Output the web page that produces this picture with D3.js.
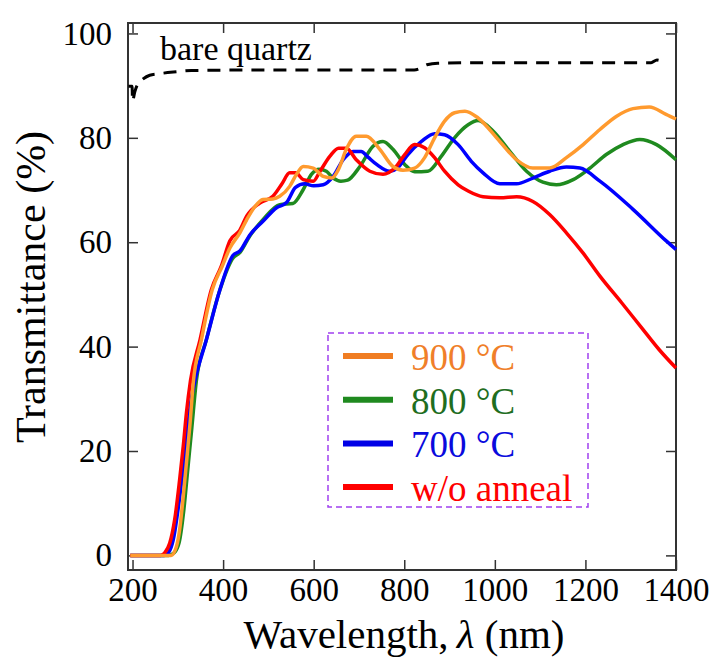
<!DOCTYPE html>
<html>
<head>
<meta charset="utf-8">
<script src="https://cdn.jsdelivr.net/npm/d3@7"></script>
<style>
  body { margin: 0; background: #fff; }
  svg text { font-family: "Liberation Serif", "Times New Roman", Times, "DejaVu Serif", serif; }
</style>
</head>
<body>
<div id="chart"></div>
<script>
// wavelength (nm), transmittance (%)
const bareQuartz = [[191,89.9],[199,89.9],[200,87.0],[205,88.8],[212,90.4],[222,91.2],[238,92.0],[260,92.3],[290,92.6],[330,92.9],[500,93.0],[700,93.0],[822,93.0],[835,93.3],[850,94.0],[874,94.3],[1000,94.4],[1200,94.4],[1345,94.4],[1358,94.9],[1370,94.6],[1378,94.2]];

const noAnneal = [[195,0],[262,0],[272,0.6],[282,2.3],[293,6.8],[304,14.5],[312,20.9],[319,27.3],[328,33.5],[349,41.3],[374,50.9],[396,55.4],[415,60.3],[437,62.3],[452,65.0],[481,67.5],[510,68.8],[530,71.2],[547,73.3],[560,73.3],[577,72.0],[599,71.7],[614,73.6],[636,76.5],[655,78.0],[672,78.0],[694,75.8],[724,73.6],[753,73.0],[779,74.2],[801,76.8],[823,78.7],[845,78.1],[867,76.2],[889,73.6],[919,71.0],[941,69.8],[974,68.7],[1011,68.5],[1048,68.7],[1084,67.8],[1121,65.3],[1158,61.8],[1195,57.9],[1232,53.5],[1280,48.4],[1326,43.4],[1363,39.4],[1400,35.9]];

const anneal700 = [[195,0],[270,0],[280,0.6],[290,3],[300,8.5],[311,16],[320,23],[328,29],[338,33.5],[363,41.3],[393,50.9],[422,57.5],[437,58.3],[459,61.4],[488,64.0],[518,66.6],[540,67.6],[560,70.5],[580,71.2],[600,70.8],[621,71.0],[643,72.6],[665,75.8],[687,77.4],[705,77.4],[720,76.3],[739,74.9],[768,73.6],[785,74.2],[808,76.8],[838,79.3],[867,80.8],[889,80.6],[919,78.7],[948,75.5],[974,73.3],[1011,71.2],[1048,71.2],[1084,72.3],[1121,73.6],[1158,74.4],[1188,74.2],[1232,71.7],[1305,66.3],[1379,60.2],[1400,58.6]];

const anneal800 = [[195,0],[280,0],[292,0.5],[303,2.5],[313,8.5],[322,16.5],[331,24.5],[341,33.5],[363,41.3],[393,50.9],[422,57.0],[437,58.0],[459,61.2],[488,64.3],[525,67.2],[554,67.4],[577,70.1],[595,73.0],[612,74.0],[628,73.6],[643,72.3],[660,71.7],[675,71.9],[702,74.5],[731,78.4],[753,79.3],[775,77.8],[801,74.9],[823,73.5],[852,73.6],[882,76.5],[911,80.0],[941,82.5],[963,83.3],[996,81.3],[1033,77.4],[1070,73.6],[1106,71.5],[1136,71.0],[1173,72.0],[1210,74.2],[1246,76.8],[1283,78.7],[1320,79.7],[1357,78.7],[1400,75.8]];

const anneal900 = [[195,0],[285,0],[297,1.7],[304,4.9],[312,11.3],[319,17.7],[327,25.3],[334,33],[352,41.3],[376,50.9],[398,55.4],[415,58.9],[437,61.8],[452,64.3],[470,66.8],[488,68.2],[510,68.3],[525,68.8],[547,70.7],[562,73.0],[577,74.5],[599,74.2],[621,72.6],[640,72.3],[655,74.0],[672,77.8],[694,80.3],[716,80.3],[746,77.8],[775,74.5],[797,73.8],[823,74.2],[845,76.2],[867,80.0],[889,83.2],[911,84.8],[934,85.1],[963,83.8],[1011,79.3],[1048,75.8],[1084,74.2],[1121,74.2],[1158,76.2],[1195,78.7],[1232,81.6],[1268,84.1],[1305,85.6],[1341,85.9],[1378,84.5],[1400,83.6]];

const xTicks = [200, 400, 600, 800, 1000, 1200, 1400];
const yTicks = [0, 20, 40, 60, 80, 100];

const legendLabels = ["900 °C", "800 °C", "700 °C", "w/o anneal"];

(function transmittance() {

  let width = 713,
    height = 659,
    margin = ({ top: 23, right: 37, bottom: 89, left: 128 });

  const svg = d3.select("#chart")
    .append("svg")
    .attr("width", width)
    .attr("height", height)
    .attr("viewBox", [0, 0, width, height]);

  let x = d3.scaleLinear()
    .domain([190, 1400])
    .range([margin.left, width - margin.right]);

  let y = d3.scaleLinear()
    .domain([-2.8, 102])
    .range([height - margin.bottom, margin.top]);

  let minorX = d3.range(200, 1401, 50),
    minorY = d3.range(0, 101, 5);

  // ticks point inward on all four sides
  function drawAxis(axisFn, scale, pos, major, minor, labels) {
    let g = svg.append("g").attr("transform", pos);
    g.call(axisFn(scale).tickValues(minor).tickSizeInner(-6).tickSizeOuter(0).tickFormat(""));
    g.call(axisFn(scale).tickValues(major).tickSizeInner(-10).tickSizeOuter(0)
      .tickPadding(axisFn === d3.axisLeft ? 16 : 8)
      .tickFormat(labels ? d => d : ""));
    g.selectAll(".domain").remove();
    g.selectAll("line").attr("stroke", "#333").attr("stroke-width", 1.5);
    g.attr("font-family", null).attr("font-size", 33);
    g.selectAll("text").attr("fill", "#000");
    return g;
  }

  drawAxis(d3.axisBottom, x, `translate(0,${height - margin.bottom})`, xTicks, minorX, true);
  drawAxis(d3.axisTop, x, `translate(0,${margin.top})`, xTicks, minorX, false);
  drawAxis(d3.axisLeft, y, `translate(${margin.left},0)`, yTicks, minorY, true);
  drawAxis(d3.axisRight, y, `translate(${width - margin.right},0)`, yTicks, minorY, false);

  svg.append("rect")
    .attr("x", margin.left)
    .attr("y", margin.top)
    .attr("width", width - margin.left - margin.right)
    .attr("height", height - margin.top - margin.bottom)
    .attr("fill", "none")
    .attr("stroke", "#333")
    .attr("stroke-width", 2);

  let line = d3.line()
    .x(d => x(d[0]))
    .y(d => y(d[1]))
    .curve(d3.curveMonotoneX);

  svg.append("path")
    .datum(bareQuartz)
    .attr("fill", "none")
    .attr("stroke", "#000")
    .attr("stroke-width", 3)
    .attr("stroke-dasharray", "13,9")
    .attr("d", line);

  let series = [
    { data: anneal800, color: "#1f8a1f" },
    { data: anneal700, color: "#0000ff" },
    { data: noAnneal, color: "#ff0000" },
    { data: anneal900, color: "#ff9a2e" }
  ];

  for (let s of series) {
    svg.append("path")
      .datum(s.data)
      .attr("fill", "none")
      .attr("stroke", s.color)
      .attr("stroke-width", 3.5)
      .attr("stroke-linejoin", "round")
      .attr("d", line);
  }

  svg.append("text")
    .attr("x", 160)
    .attr("y", 60)
    .attr("font-size", 34)
    .text("bare quartz");

  // legend
  let lineColors = ["#f07d22", "#1f8a1f", "#0000e6", "#ff0000"],
    textColors = ["#f07f2a", "#1f6e1f", "#0a0add", "#ff0000"];

  let lg = svg.append("g");

  lg.append("rect")
    .attr("x", 328)
    .attr("y", 333)
    .attr("width", 260)
    .attr("height", 174)
    .attr("fill", "#fff")
    .attr("stroke", "#a040f0")
    .attr("stroke-width", 1.5)
    .attr("stroke-dasharray", "6,4");

  legendLabels.forEach((lab, i) => {
    let ry = 356 + i * 43.7;
    lg.append("line")
      .attr("x1", 343).attr("x2", 393)
      .attr("y1", ry).attr("y2", ry)
      .attr("stroke", lineColors[i])
      .attr("stroke-width", 6);
    lg.append("text")
      .attr("x", 411)
      .attr("y", ry + 14)
      .attr("font-size", 37)
      .attr("fill", textColors[i])
      .text(lab);
  });

  // axis titles
  let xt = svg.append("text")
    .attr("text-anchor", "middle")
    .attr("x", 404)
    .attr("y", 648)
    .attr("font-size", 41);
  xt.append("tspan").text("Wavelength,\u2009");
  xt.append("tspan").attr("font-style", "italic").text("\u03bb");
  xt.append("tspan").text(" (nm)");

  svg.append("text")
    .attr("text-anchor", "middle")
    .attr("transform", "translate(45,287) rotate(-90)")
    .attr("font-size", 42)
    .text("Transmittance (%)");

})();
</script>
</body>
</html>
